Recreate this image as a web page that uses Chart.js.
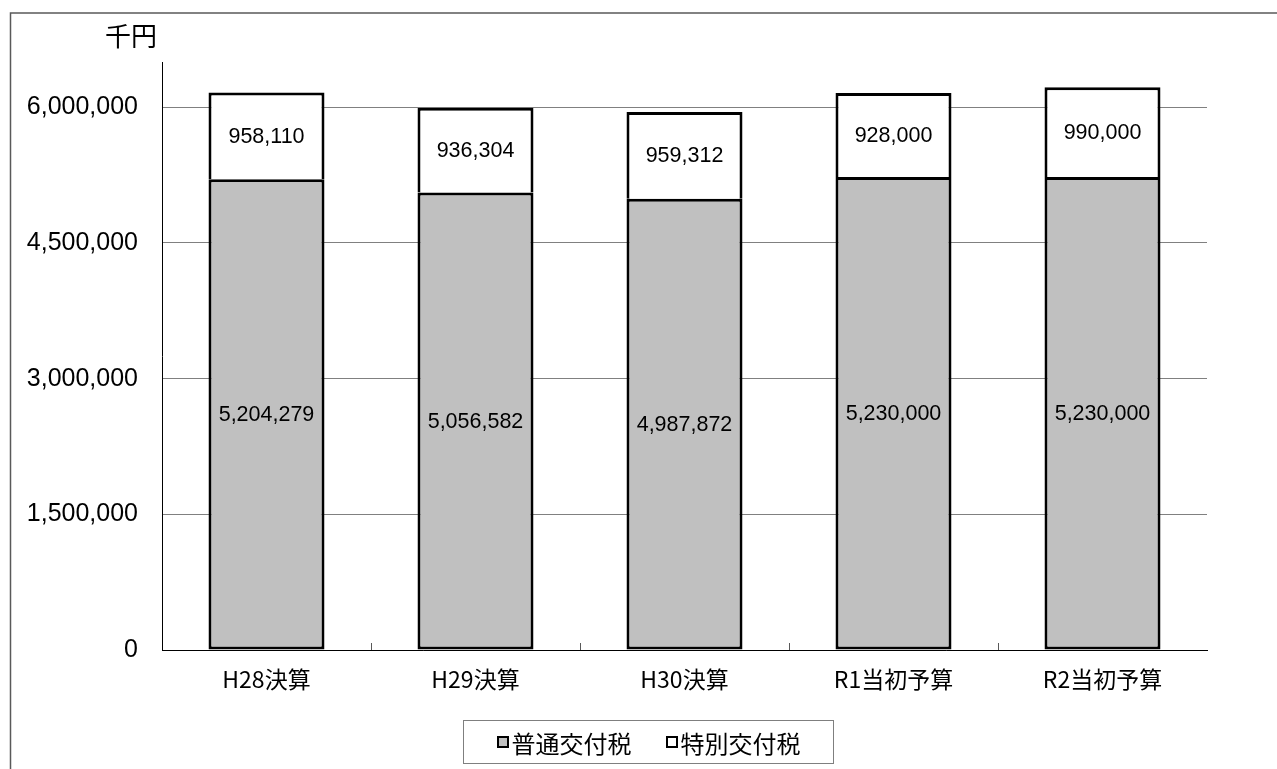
<!DOCTYPE html>
<html lang="ja">
<head>
<meta charset="utf-8">
<title>地方交付税の推移</title>
<script src="https://cdn.jsdelivr.net/npm/chart.js@4.4.1/dist/chart.umd.min.js"></script>
<style>
  html, body { margin: 0; padding: 0; background: #fff; }
  #wrap { position: relative; width: 1277px; height: 769px; overflow: hidden; }
  #chart { position: absolute; left: 0; top: 0; }
  #legend {
    position: absolute; left: 463px; top: 720px; width: 371px; height: 44px;
    border: 1px solid #7f7f7f; box-sizing: border-box;
    display: flex; align-items: center; justify-content: center; gap: 34px;
    font-family: 'Noto Sans CJK JP', 'Liberation Sans', sans-serif; font-size: 24px; color: #000;
  }
  #legend .item { display: flex; align-items: center; gap: 3px; }
  #legend .sw { width: 8px; height: 8px; border: 2px solid #000; }
</style>
</head>
<body>
<div id="wrap">
  <canvas id="chart" width="1277" height="769"></canvas>
  <div id="legend"></div>
</div>
<script>
// 年度区分
const categories = ['H28決算', 'H29決算', 'H30決算', 'R1当初予算', 'R2当初予算'];
// 普通交付税（千円）
const ordinaryTax = [5204279, 5056582, 4987872, 5230000, 5230000];
// 特別交付税（千円）
const specialTax = [958110, 936304, 959312, 928000, 990000];
// 縦軸目盛
const yTicks = [0, 1500000, 3000000, 4500000, 6000000];
const yMax = 6500000;
const unitLabel = '千円';

const FONT_LATIN = "'Liberation Sans', 'Noto Sans CJK JP', sans-serif";
const FONT_CJK = "'Noto Sans CJK JP', 'Liberation Sans', sans-serif";

const datasets = [
  {
    label: '普通交付税',
    data: ordinaryTax,
    backgroundColor: '#c0c0c0',
    borderColor: '#000',
    borderWidth: 3,
    borderSkipped: false
  },
  {
    label: '特別交付税',
    data: specialTax,
    backgroundColor: '#ffffff',
    borderColor: '#000',
    borderWidth: 3,
    borderSkipped: 'start'
  }
];

// 外枠と単位表示
const framePlugin = {
  id: 'frame',
  beforeDraw(chart) {
    const ctx = chart.ctx;
    ctx.save();
    ctx.fillStyle = '#fff';
    ctx.fillRect(0, 0, chart.width, chart.height);
    ctx.strokeStyle = '#595959';
    ctx.lineWidth = 1.5;
    ctx.beginPath();
    ctx.moveTo(10.5, chart.height + 2);
    ctx.lineTo(10.5, 13);
    ctx.lineTo(chart.width + 2, 13);
    ctx.stroke();
    ctx.fillStyle = '#000';
    ctx.font = '26px ' + FONT_CJK;
    ctx.textAlign = 'left';
    ctx.textBaseline = 'middle';
    ctx.fillText(unitLabel, 105, 36);
    ctx.restore();
  }
};

// 横軸の区切り目盛（内向き）
const innerTickPlugin = {
  id: 'innerTicks',
  afterDatasetsDraw(chart) {
    const xs = chart.scales.x;
    const ctx = chart.ctx;
    const bottom = chart.chartArea.bottom;
    ctx.save();
    ctx.strokeStyle = '#595959';
    ctx.lineWidth = 1;
    for (let i = 1; i < categories.length; i++) {
      const x = Math.round((xs.getPixelForValue(i - 1) + xs.getPixelForValue(i)) / 2) + 0.5;
      ctx.beginPath();
      ctx.moveTo(x, bottom);
      ctx.lineTo(x, bottom - 7);
      ctx.stroke();
    }
    ctx.restore();
  }
};

// 棒の中央に数値を表示
const valueLabelPlugin = {
  id: 'valueLabels',
  afterDatasetsDraw(chart) {
    const ctx = chart.ctx;
    ctx.save();
    ctx.fillStyle = '#000';
    ctx.font = '21.5px ' + FONT_LATIN;
    ctx.textAlign = 'center';
    ctx.textBaseline = 'middle';
    chart.data.datasets.forEach((ds, di) => {
      const meta = chart.getDatasetMeta(di);
      meta.data.forEach((bar, i) => {
        const p = bar.getProps(['x', 'y', 'base'], true);
        ctx.fillText(ds.data[i].toLocaleString('en-US'), p.x, (p.y + p.base) / 2 + 1);
      });
    });
    ctx.restore();
  }
};

const chart = new Chart(document.getElementById('chart'), {
  type: 'bar',
  data: { labels: categories, datasets },
  options: {
    responsive: false,
    animation: false,
    events: [],
    layout: { padding: { left: 0, right: 70, top: 62, bottom: 69 } },
    datasets: { bar: { categoryPercentage: 1, barPercentage: 0.555 } },
    plugins: {
      legend: { display: false },
      tooltip: { enabled: false }
    },
    scales: {
      x: {
        stacked: true,
        grid: { display: false, drawTicks: false },
        border: { display: true, color: '#000', width: 1 },
        ticks: {
          color: '#000',
          padding: 15,
          font: { family: FONT_CJK, size: 23 }
        },
        afterFit(scale) { scale.height = 50; }
      },
      y: {
        stacked: true,
        min: 0,
        max: yMax,
        grid: { color: '#808080', lineWidth: 1, drawTicks: false },
        border: { display: true, color: '#000', width: 1 },
        ticks: {
          color: '#000',
          padding: 24,
          font: { family: FONT_LATIN, size: 25 },
          callback: v => Number(v).toLocaleString('en-US')
        },
        afterBuildTicks(scale) {
          scale.ticks = yTicks.map(v => ({ value: v }));
        },
        afterFit(scale) { scale.width = 162; }
      }
    }
  },
  plugins: [framePlugin, innerTickPlugin, valueLabelPlugin]
});

// 凡例
const legendEl = document.getElementById('legend');
datasets.forEach(ds => {
  const item = document.createElement('span');
  item.className = 'item';
  const sw = document.createElement('span');
  sw.className = 'sw';
  sw.style.background = ds.backgroundColor;
  const tx = document.createElement('span');
  tx.textContent = ds.label;
  item.appendChild(sw);
  item.appendChild(tx);
  legendEl.appendChild(item);
});
</script>
</body>
</html>
